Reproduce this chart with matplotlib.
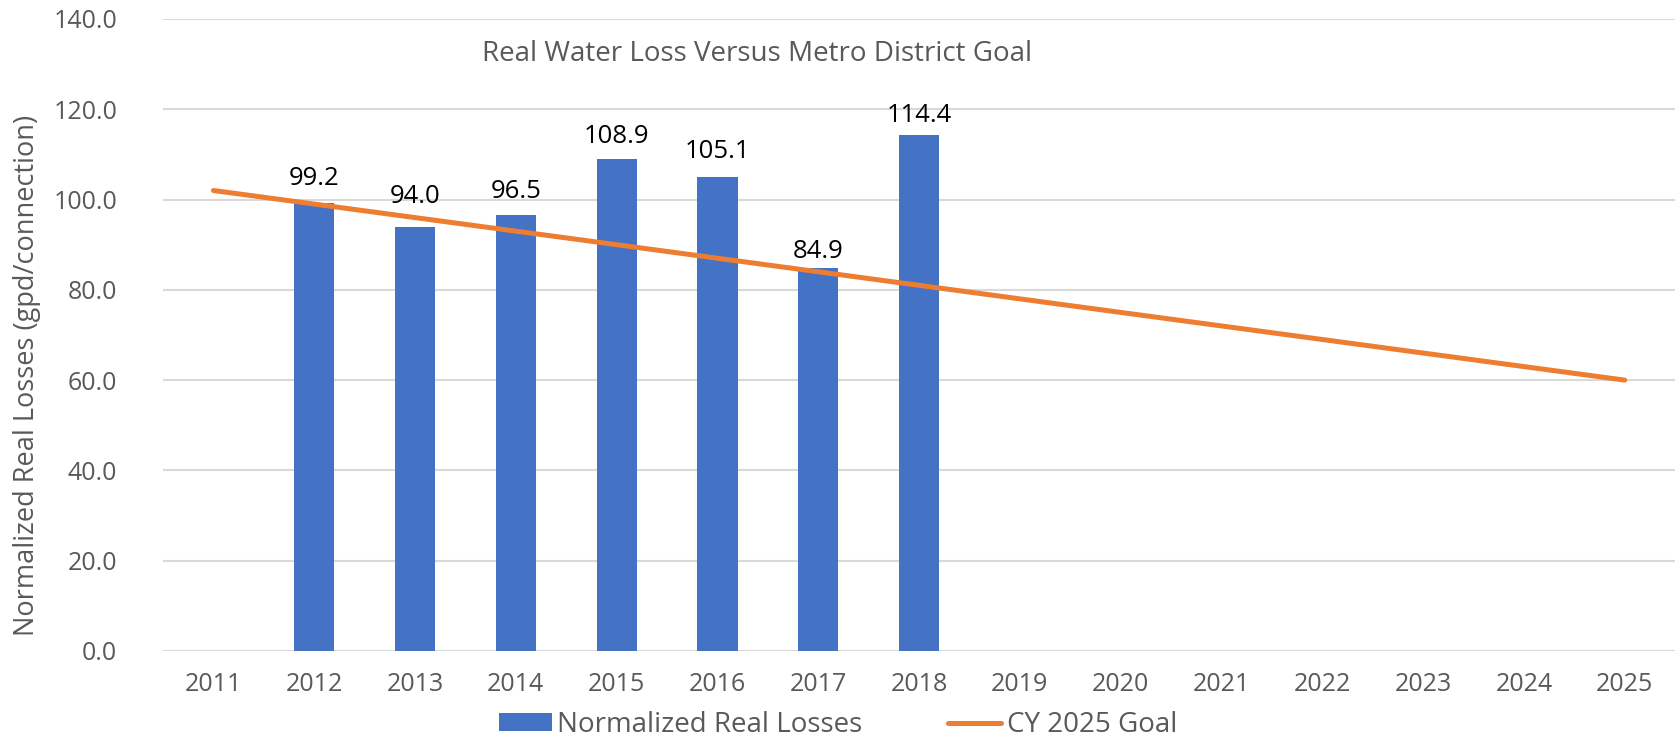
import matplotlib
matplotlib.use("Agg")
import matplotlib.pyplot as plt

years = [str(y) for y in range(2011, 2026)]
loss_years = ["2012", "2013", "2014", "2015", "2016", "2017", "2018"]
losses = [99.2, 94.0, 96.5, 108.9, 105.1, 84.9, 114.4]
goal = [102, 99, 96, 93, 90, 87, 84, 81, 78, 75, 72, 69, 66, 63, 60]
yticks = [0, 20, 40, 60, 80, 100, 120, 140]

# label gap above each bar (pixels) - styling only
label_gap_px = [18, 24, 17, 16, 19, 10, 13]

plt.rcParams["font.family"] = ["Open Sans", "DejaVu Sans"]

fig = plt.figure(figsize=(16.81, 7.38), dpi=100)
ax = fig.add_axes([0.097, 0.1179, 0.8995, 0.8564])

x = list(range(len(years)))
idx = {y: i for i, y in enumerate(years)}
bx = [idx[y] for y in loss_years]
bars = ax.bar(bx, losses, width=0.4, color="#4472C4", zorder=2, label="Normalized Real Losses")
line, = ax.plot(x, goal, color="#ED7D31", lw=3.6, solid_capstyle="round", zorder=3, label="CY 2025 Goal")

for xi, v, g in zip(bx, losses, label_gap_px):
    ax.annotate(f"{v:.1f}", (xi, v), xytext=(0, g * 0.72), textcoords="offset points",
                ha="center", va="baseline", fontsize=18.5, color="black", zorder=4)

ax.set_xlim(-0.5, len(years) - 0.5)
ax.set_ylim(0, 140)
ax.set_yticks(yticks)
ax.set_yticklabels([f"{t:.1f}" for t in yticks])
ax.set_xticks(x)
ax.set_xticklabels(years)
ax.tick_params(axis="both", length=0, labelsize=18, labelcolor="#595959")
ax.tick_params(axis="y", pad=33)
ax.tick_params(axis="x", pad=15)
ax.grid(axis="y", color="#D9D9D9", lw=1.5, zorder=0)
for s in ax.spines.values():
    s.set_visible(False)

fig.text(27 / 1681, 1 - 375 / 738, "Normalized Real Losses (gpd/connection)", rotation=90,
         ha="center", va="center", fontsize=19.5, color="#595959")
ax.text(0.393, 0.945, "Real Water Loss Versus Metro District Goal", transform=ax.transAxes,
        ha="center", va="center", fontsize=20, color="#595959")

fig.legend([bars, line], ["Normalized Real Losses", "CY 2025 Goal"],
           loc="center", bbox_to_anchor=(0.4985, 0.0176), ncol=2, frameon=False,
           fontsize=20, labelcolor="#595959", handlelength=1.9, handleheight=0.62,
           columnspacing=3.1, handletextpad=0.2, borderpad=0, borderaxespad=0)

fig.savefig("out.png", dpi=100)
